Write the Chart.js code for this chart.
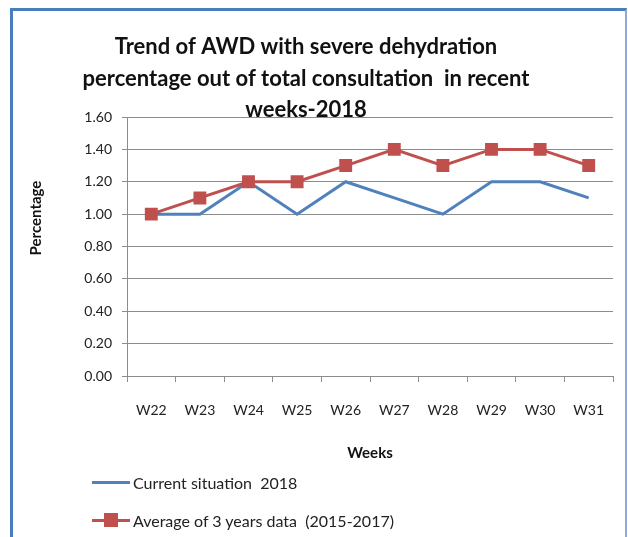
<!DOCTYPE html>
<html>
<head>
<meta charset="utf-8">
<script src="https://cdn.jsdelivr.net/npm/chart.js@4.4.1/dist/chart.umd.min.js"></script>
<style>
  body { margin: 0; background: #fff; }
  #wrap { position: relative; width: 628px; height: 537px; overflow: hidden; }
  #frame { position: absolute; left: 10px; top: 8px; width: 612px; height: 600px;
           border-left: 3px solid #4a7ebb; border-top: 3px solid #4a7ebb; border-right: 2px solid #8eaad6; }
  canvas { position: absolute; left: 0; top: 0; }
  #legend { position: absolute; left: 92px; top: 470px; font-family: Lato, sans-serif; font-size: 16px; color: #222; white-space: pre; }
  .item { display: flex; align-items: center; height: 24px; margin-bottom: 14px; }
  .swatch { position: relative; width: 38px; height: 14px; margin-right: 3px; }
  .swatch .ln { position: absolute; left: 0; right: 0; top: 6px; height: 3px; }
  .swatch .mk { position: absolute; left: 12px; top: 0; width: 14px; height: 14px; }
</style>
</head>
<body>
<div id="wrap">
  <div id="frame"></div>
  <canvas id="chartCanvas" width="628" height="537"></canvas>
  <div id="legend"></div>
</div>
<script>
const weeks = ['W22', 'W23', 'W24', 'W25', 'W26', 'W27', 'W28', 'W29', 'W30', 'W31'];
const current2018 = [1.0, 1.0, 1.2, 1.0, 1.2, 1.1, 1.0, 1.2, 1.2, 1.1];
const avg3Years = [1.0, 1.1, 1.2, 1.2, 1.3, 1.4, 1.3, 1.4, 1.4, 1.3];
const yTicks = [0, 0.2, 0.4, 0.6, 0.8, 1.0, 1.2, 1.4, 1.6];
const titleLines = ['Trend of AWD with severe dehydration',
                    'percentage out of total consultation  in recent',
                    'weeks-2018'];
const yTitle = 'Percentage';

const blue = '#4f81bd';
const red = '#c0504d';
const grey = '#8c8c8c';

// title drawn over the plot like the original (last line overlaps the top gridline)
const titlePlugin = {
    id: 'bigTitle',
    afterDraw(chart){
        const ctx = chart.ctx;
        ctx.save();
        ctx.font = 'bold 22px Lato, sans-serif';
        ctx.fillStyle = '#111';
        ctx.textAlign = 'center';
        ctx.textBaseline = 'middle';
        titleLines.forEach((t, i) => ctx.fillText(t, 306, 47 + i * 31.5));
        // y axis title sits a bit above the middle of the plot
        ctx.font = 'bold 15px Lato, sans-serif';
        ctx.translate(36, 218);
        ctx.rotate(-Math.PI / 2);
        ctx.fillText(yTitle, 0, 0);
        ctx.restore();
    }
};

const chart = new Chart(document.getElementById('chartCanvas'), {
    type: 'line',
    data: {
        labels: weeks,
        datasets: [{
            label: 'Current situation  2018',
            data: current2018,
            borderColor: blue,
            backgroundColor: blue,
            borderWidth: 3,
            pointRadius: 0,
            order: 1
        }, {
            label: 'Average of 3 years data  (2015-2017)',
            data: avg3Years,
            borderColor: red,
            backgroundColor: red,
            borderWidth: 3,
            pointStyle: 'rect',
            pointRadius: 7,
            pointHoverRadius: 7,
            order: 0
        }]
    },
    options: {
        responsive: false,
        animation: false,
        layout: { padding: { left: 26, top: 117, right: 15, bottom: 71 } },
        plugins: {
            legend: { display: false },
            tooltip: { enabled: false }
        },
        scales: {
            x: {
                offset: true,
                grid: { offset: true, drawOnChartArea: false, drawTicks: true, tickLength: 6, color: grey },
                border: { color: grey, width: 1 },
                ticks: { padding: 20, color: '#222', font: { family: 'Lato', size: 14 } },
                title: { display: true, text: 'Weeks', color: '#111', padding: { top: 12 },
                         font: { family: 'Lato', size: 15, weight: 'bold' } },
                afterFit(scale){ scale.height = 90; }
            },
            y: {
                min: 0, max: 1.6,
                afterBuildTicks(scale){ scale.ticks = yTicks.map(v => ({ value: v })); },
                grid: { color: grey, tickLength: 5 },
                border: { color: grey, width: 1 },
                ticks: { padding: 10, color: '#222', font: { family: 'Lato', size: 14 },
                         callback: v => v.toFixed(2) },
                afterFit(scale){ scale.width = 101; }
            }
        }
    },
    plugins: [titlePlugin]
});

// legend stacked vertically under the chart, built from the datasets
const legend = document.getElementById('legend');
chart.data.datasets.forEach(ds => {
    const item = document.createElement('div');
    item.className = 'item';
    const sw = document.createElement('div');
    sw.className = 'swatch';
    sw.innerHTML = '<div class="ln" style="background:' + ds.borderColor + '"></div>' +
        (ds.pointStyle === 'rect' ? '<div class="mk" style="background:' + ds.backgroundColor + '"></div>' : '');
    const txt = document.createElement('span');
    txt.textContent = ds.label;
    item.appendChild(sw);
    item.appendChild(txt);
    legend.appendChild(item);
});
</script>
</body>
</html>
